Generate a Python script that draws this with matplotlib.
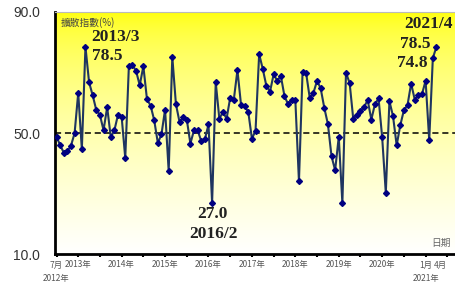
import numpy as np
import matplotlib

matplotlib.use("Agg")
import matplotlib.pyplot as plt
from matplotlib.transforms import blended_transform_factory

plt.rcParams["font.family"] = ["Noto Sans CJK TC", "DejaVu Sans"]

# monthly diffusion index, Jul 2012 .. Apr 2021
values = [
    48.8, 46.1, 43.6, 44.0, 45.9, 50.0, 63.3, 44.7, 78.5, 66.8,
    62.5, 57.6, 56.0, 51.0, 58.6, 48.7, 51.0, 56.1, 55.4, 41.8,
    72.2, 72.5, 70.5, 65.8, 72.1, 61.2, 59.1, 54.3, 46.8, 49.6,
    57.8, 37.5, 75.2, 59.6, 53.7, 55.2, 54.5, 46.6, 51.0, 51.0,
    47.4, 48.0, 52.9, 27.0, 66.8, 54.8, 57.0, 54.8, 61.7, 61.1,
    70.8, 59.3, 58.9, 57.0, 48.2, 50.8, 76.1, 71.2, 65.6, 63.7,
    69.4, 67.3, 68.9, 62.2, 59.6, 60.9, 60.9, 34.1, 70.3, 69.7,
    61.5, 63.3, 67.3, 64.8, 58.4, 53.0, 42.4, 37.8, 48.8, 26.9,
    69.9, 66.6, 54.8, 56.0, 57.3, 58.7, 60.9, 54.5, 59.6, 61.5,
    48.6, 30.3, 60.6, 55.6, 46.0, 52.6, 57.6, 59.3, 66.4, 61.1,
    62.6, 62.9, 67.3, 47.7, 74.8, 78.5,
]
months = np.arange(len(values))

yticks = [10.0, 50.0, 90.0]
xlabels_row1 = [("7月", 0), ("2013年", 6), ("2014年", 18), ("2015年", 30),
                ("2016年", 42), ("2017年", 54), ("2018年", 66), ("2019年", 78),
                ("2020年", 90), ("1月", 102), ("4月", 106)]
xlabels_row2 = [("2012年", 0), ("2021年", 102)]

fig = plt.figure(figsize=(4.56, 2.84), dpi=100)
ax = fig.add_axes([0.1213, 0.1039, 0.8787, 0.854])
ax.set_xlim(-0.33, 110.4)
ax.set_ylim(10, 90)

# yellow -> white gradient background
t = np.linspace(0, 1, 256)[:, None]
grad = np.zeros((256, 2, 3))
grad[..., 0] = 1
grad[..., 1] = 1
grad[..., 2] = (t ** 0.55)[:, 0][:, None]
ax.imshow(grad, extent=[-0.33, 110.4, 10, 90], aspect="auto", origin="upper", zorder=0)

ax.axhline(50, color="black", lw=1.1, ls=(0, (4, 2.5)), zorder=2)
ax.plot(months, values, color="#1f3560", lw=1.5, marker="D", ms=3,
        mfc="#000080", mec="#000080", zorder=3)

ax.set_yticks(yticks)
ax.set_yticklabels([f"{v:.1f}" for v in yticks], family="Liberation Sans",
                   fontsize=10, color="#333333")
ax.tick_params(axis="y", length=0, pad=11)
ax.set_xticks(np.arange(0, 109, 6))
ax.set_xticklabels([])
ax.tick_params(axis="x", length=2.5, width=1.5, direction="out", color="black")

for s in ("left", "bottom"):
    ax.spines[s].set_linewidth(2)
    ax.spines[s].set_color("black")
ax.spines["top"].set_color("#bbbbbb")
ax.spines["top"].set_linewidth(0.8)
ax.spines["right"].set_visible(False)

tr = blended_transform_factory(ax.transData, fig.transFigure)
for txt, x in xlabels_row1:
    ax.text(x, 1 - 265 / 284, txt, transform=tr, ha="center", va="center",
            fontsize=6, color="#555555")
for txt, x in xlabels_row2:
    ax.text(x, 1 - 279 / 284, txt, transform=tr, ha="center", va="center",
            fontsize=6, color="#555555")

ax.text(1.25, 86.5, "擴散指數(%)", fontsize=7, color="#444444", va="center")
ax.text(109, 13.8, "日期", fontsize=7, color="#666666", va="center", ha="right")

bold = dict(family="Liberation Serif", fontweight="bold", fontsize=12.5,
            color="#222222", va="center")
ax.text(9.5, 81.7, "2013/3", ha="left", **bold)
ax.text(9.7, 75.5, "78.5", ha="left", **bold)
ax.text(43, 23.4, "27.0", ha="center", **bold)
ax.text(43.3, 16.8, "2016/2", ha="center", **bold)
ax.text(102.8, 86.0, "2021/4", ha="center", **bold)
ax.text(103.4, 79.3, "78.5", ha="right", **bold)
ax.text(102.5, 73.2, "74.8", ha="right", **bold)

fig.savefig("out.png", dpi=100)
